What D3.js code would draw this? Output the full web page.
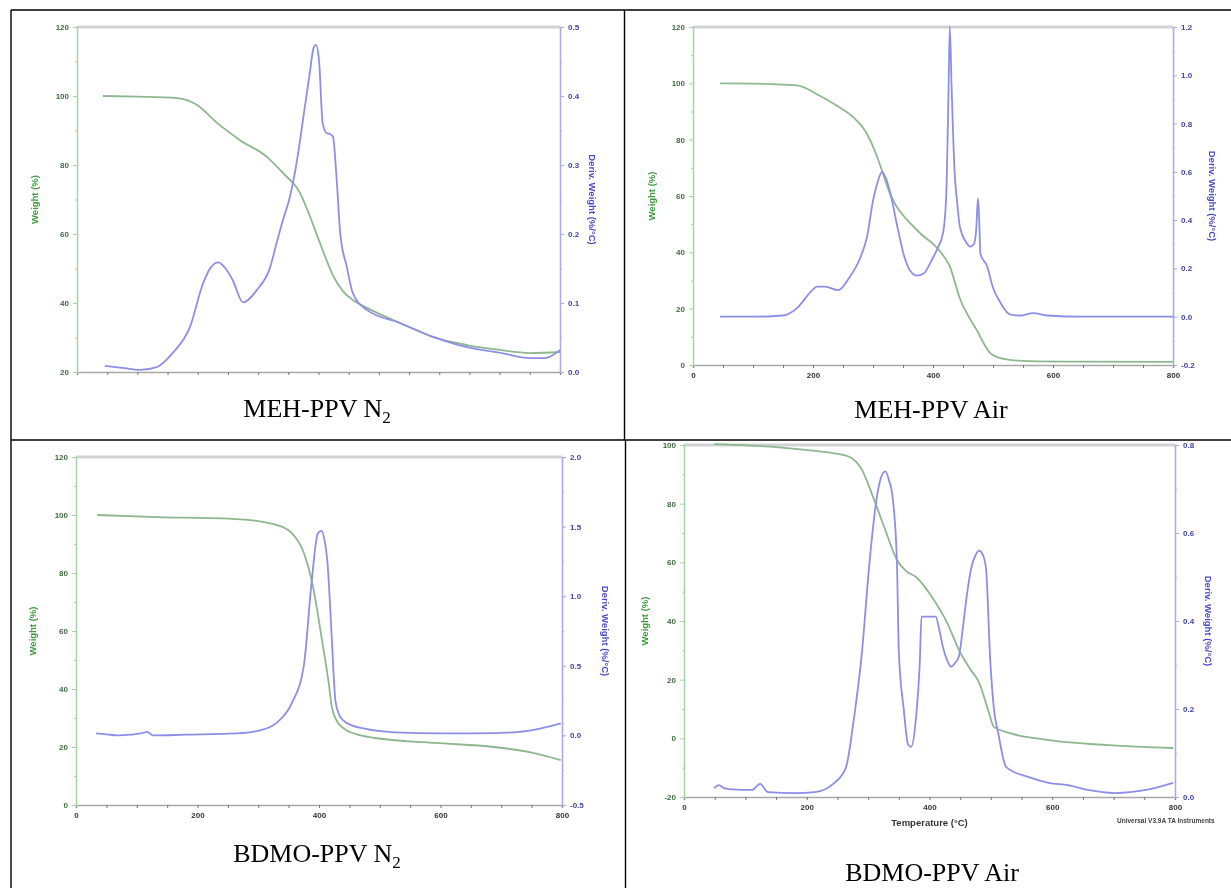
<!DOCTYPE html>
<html>
<head>
<meta charset="utf-8">
<script src="https://cdn.jsdelivr.net/npm/d3@7"></script>
<style>
  body { margin: 0; background: #fff; }
  svg { display: block; }
</style>
</head>
<body>
<svg id="fig" width="1231" height="888"></svg>
<script>
// ---------- TGA / DTG data (temperature in °C) ----------
// MEH-PPV under N2
const mehN2WeightT = [43, 100, 166, 199, 232, 270, 315, 341, 369, 385, 400, 412, 424, 440, 460, 480, 535, 590, 646, 700, 750, 800];
const mehN2Weight  = [100, 99.8, 99.4, 97.4, 92.2, 87.2, 82.3, 77.7, 72, 65.5, 58.5, 53, 48, 43.5, 40.5, 38.6, 34.2, 30.1, 27.8, 26.4, 25.5, 25.8];
const mehN2DerivT  = [46, 75, 104, 132, 159, 187, 209, 222, 234, 246, 258, 275, 298, 320, 330, 341, 353, 365, 375, 385, 392, 396, 401, 407, 414, 419, 424, 430, 436, 447, 457, 480, 535, 590, 646, 700, 750, 775, 800];
const mehN2Deriv   = [0.009, 0.006, 0.003, 0.007, 0.028, 0.065, 0.129, 0.152, 0.159, 0.150, 0.133, 0.101, 0.119, 0.152, 0.185, 0.220, 0.255, 0.31, 0.37, 0.43, 0.470, 0.474, 0.45, 0.36, 0.346, 0.345, 0.341, 0.28, 0.201, 0.152, 0.114, 0.090, 0.071, 0.051, 0.036, 0.028, 0.020, 0.020, 0.032];

// MEH-PPV in air
const mehAirWeightT = [45, 100, 173, 212, 240, 267, 290, 305, 315, 328, 340, 357, 380, 407, 420, 428, 437, 445, 460, 473, 485, 495, 510, 528, 560, 650, 800];
const mehAirWeight  = [100, 99.9, 99.3, 95.5, 92, 88, 82, 75, 69, 61, 56, 51.5, 46.5, 41.5, 38, 35, 29, 23.5, 17, 12.4, 7.5, 4.3, 2.6, 1.8, 1.4, 1.2, 1.1];
const mehAirDerivT  = [45, 100, 150, 175, 195, 207, 220, 242, 260, 278, 290, 300, 308, 315, 322, 330, 340, 352, 362, 373, 385, 397, 407, 417, 422, 426, 428, 431, 436, 440, 445, 455, 462, 468, 472, 475, 477, 479, 490, 500, 512, 528, 545, 567, 590, 650, 800];
const mehAirDeriv   = [0.0, 0.0, 0.005, 0.04, 0.10, 0.125, 0.125, 0.11, 0.16, 0.24, 0.33, 0.48, 0.56, 0.60, 0.57, 0.50, 0.38, 0.25, 0.19, 0.17, 0.18, 0.23, 0.28, 0.35, 0.50, 0.95, 1.2, 0.95, 0.60, 0.48, 0.37, 0.31, 0.29, 0.30, 0.36, 0.49, 0.40, 0.26, 0.21, 0.12, 0.06, 0.01, 0.005, 0.015, 0.005, 0.0, 0.0];

// BDMO-PPV under N2
const bdmoN2WeightT = [35, 134, 264, 330, 355, 375, 388, 398, 404, 411, 416, 421, 428, 440, 460, 492, 591, 688, 754, 798];
const bdmoN2Weight  = [100, 99.3, 98.6, 96.6, 93.8, 87, 77.5, 66, 58, 49, 42, 34, 29.5, 26.5, 24.5, 23.1, 21.4, 20, 17.9, 15.5];
const bdmoN2DerivT  = [33, 50, 69, 90, 107, 117, 127, 180, 264, 303, 330, 355, 375, 388, 398, 404, 410, 414, 418, 421, 427, 433, 440, 455, 473, 525, 600, 655, 721, 760, 798];
const bdmoN2Deriv   = [0.014, 0.008, 0.0, 0.005, 0.014, 0.025, 0.0, 0.005, 0.014, 0.036, 0.09, 0.23, 0.50, 1.11, 1.45, 1.47, 1.38, 1.24, 0.95, 0.70, 0.25, 0.15, 0.108, 0.07, 0.05, 0.022, 0.014, 0.014, 0.022, 0.045, 0.086];

// BDMO-PPV in air
const bdmoAirWeightT = [49, 150, 213, 250, 270, 290, 308, 328, 347, 362, 378, 404, 429, 448, 465, 481, 495, 505, 531, 595, 690, 797];
const bdmoAirWeight  = [100.3, 99.3, 98, 97, 95.9, 91.5, 82.3, 71, 60.8, 57, 55, 48.2, 39.3, 30.1, 24, 18.9, 10, 3.9, 1.8, -0.6, -2.3, -3.3];
const bdmoAirDerivT  = [49, 57, 65, 73, 111, 124, 137, 181, 213, 245, 264, 277, 290, 302, 314, 322, 328, 334, 340, 347, 350, 358, 365, 370, 378, 384, 387, 410, 416, 422, 429, 435, 442, 448, 454, 461, 468, 475, 481, 487, 492, 499, 505, 512, 525, 562, 594, 626, 658, 702, 753, 797];
const bdmoAirDeriv   = [0.02, 0.027, 0.02, 0.018, 0.016, 0.03, 0.011, 0.009, 0.011, 0.032, 0.068, 0.18, 0.33, 0.53, 0.68, 0.73, 0.74, 0.72, 0.68, 0.53, 0.33, 0.2, 0.12, 0.114, 0.18, 0.30, 0.41, 0.41, 0.38, 0.34, 0.31, 0.296, 0.305, 0.32, 0.38, 0.46, 0.52, 0.55, 0.56, 0.55, 0.52, 0.31, 0.2, 0.145, 0.068, 0.045, 0.032, 0.027, 0.016, 0.009, 0.016, 0.032];

// ---------- tick labels ----------
const tempTicks      = [0, 200, 400, 600, 800];
const weightTicksA   = [20, 40, 60, 80, 100, 120];
const weightTicksB   = [0, 20, 40, 60, 80, 100, 120];
const weightTicksC   = [-20, 0, 20, 40, 60, 80, 100];
const derivTicksA    = [0.0, 0.1, 0.2, 0.3, 0.4, 0.5];
const derivTicksB    = [-0.2, 0.0, 0.2, 0.4, 0.6, 0.8, 1.0, 1.2];
const derivTicksC    = [-0.5, 0.0, 0.5, 1.0, 1.5, 2.0];
const derivTicksD    = [0.0, 0.2, 0.4, 0.6, 0.8];
const captions = [
  { name: "MEH-PPV", gas: "N", sub: "2" },
  { name: "MEH-PPV", gas: "Air", sub: "" },
  { name: "BDMO-PPV", gas: "N", sub: "2" },
  { name: "BDMO-PPV", gas: "Air", sub: "" }
];

// ---------- page ----------
const svg = d3.select("#fig");
const defs = svg.append("defs");
defs.append("filter").attr("id", "soft")
  .attr("x", "-5%").attr("y", "-5%").attr("width", "110%").attr("height", "110%")
  .append("feGaussianBlur").attr("stdDeviation", 0.6);

const GREEN = "#8fb78f", BLUE = "#8e8ee8";
const GREEN_TXT = "#3d9b3d", BLUE_TXT = "#4a4ac8";
const SANS = "Liberation Sans, Arial, sans-serif";
// plain hyphen-minus for negative tick values
const fmtInt = v => String(v);
const fmtOne = v => v.toFixed(1);

const panels = [
  { id: 0, x0: 77, x1: 560, yTop: 27, yBot: 372, clip: [12, 11, 611, 366],
    wDom: [20, 120], wTicks: weightTicksA, dDom: [0, 0.5], dTicks: derivTicksA, dMinor: 0.05,
    xLabels: false, xTitle: false, lTitleX: 35, rTitleX: 592,
    wT: mehN2WeightT, w: mehN2Weight, dT: mehN2DerivT, d: mehN2Deriv },
  { id: 1, x0: 693, x1: 1173, yTop: 27, yBot: 365, clip: [626, 11, 605, 376],
    wDom: [0, 120], wTicks: weightTicksB, dDom: [-0.2, 1.2], dTicks: derivTicksB, dMinor: 0.1,
    xLabels: true, xTitle: false, lTitleX: 652, rTitleX: 1212,
    wT: mehAirWeightT, w: mehAirWeight, dT: mehAirDerivT, d: mehAirDeriv },
  { id: 2, x0: 76, x1: 562, yTop: 457, yBot: 805, clip: [12, 441, 611, 385],
    wDom: [0, 120], wTicks: weightTicksB, dDom: [-0.5, 2.0], dTicks: derivTicksC, dMinor: 0.25,
    xLabels: true, xTitle: false, lTitleX: 33, rTitleX: 605,
    wT: bdmoN2WeightT, w: bdmoN2Weight, dT: bdmoN2DerivT, d: bdmoN2Deriv },
  { id: 3, x0: 684, x1: 1175, yTop: 445, yBot: 797, clip: [626, 441, 605, 390],
    wDom: [-20, 100], wTicks: weightTicksC, dDom: [0, 0.8], dTicks: derivTicksD, dMinor: 0.1,
    xLabels: true, xTitle: true, lTitleX: 645, rTitleX: 1208,
    wT: bdmoAirWeightT, w: bdmoAirWeight, dT: bdmoAirDerivT, d: bdmoAirDeriv }
];

function styleAxis(sel, lineColor, textColor) {
  sel.selectAll("path.domain").attr("stroke", lineColor).attr("stroke-width", 1.3);
  sel.selectAll(".tick line").attr("stroke", lineColor).attr("stroke-width", 1);
  sel.selectAll(".tick text").attr("fill", textColor)
    .attr("font-family", SANS).attr("font-size", 8).attr("font-weight", "bold");
}

panels.forEach(p => {
  const c = p.clip;
  defs.append("clipPath").attr("id", "clip" + p.id)
    .append("rect").attr("x", c[0]).attr("y", c[1]).attr("width", c[2]).attr("height", c[3]);

  const g = svg.append("g").attr("clip-path", `url(#clip${p.id})`)
    .append("g").attr("filter", "url(#soft)");

  const x = d3.scaleLinear().domain([0, 800]).range([p.x0, p.x1]);
  const yW = d3.scaleLinear().domain(p.wDom).range([p.yBot, p.yTop]);
  const yD = d3.scaleLinear().domain(p.dDom).range([p.yBot, p.yTop]);

  // top frame bar
  g.append("line")
    .attr("x1", p.x0).attr("x2", p.x1).attr("y1", p.yTop).attr("y2", p.yTop)
    .attr("stroke", "#d2d2d2").attr("stroke-width", 3);

  // temperature axis: ticks every 50 °C, labels every 200 °C
  const xAx = g.append("g").attr("transform", `translate(0,${p.yBot})`)
    .call(d3.axisBottom(x).tickValues(d3.range(0, 801, 50)).tickSizeOuter(0)
      .tickSize(3).tickPadding(4)
      .tickFormat(v => (p.xLabels && tempTicks.includes(v)) ? fmtInt(v) : ""));
  styleAxis(xAx, "#a8a8a8", "#333");
  xAx.selectAll(".tick line").attr("stroke", "#777");

  // weight axis (left)
  const lMinor = g.append("g").attr("transform", `translate(${p.x0},0)`)
    .call(d3.axisLeft(yW).tickValues(d3.range(p.wDom[0] + 10, p.wDom[1], 20))
      .tickSize(2).tickFormat(""));
  styleAxis(lMinor, "#a9d4a9", GREEN_TXT);
  const lAx = g.append("g").attr("transform", `translate(${p.x0},0)`)
    .call(d3.axisLeft(yW).tickValues(p.wTicks).tickSize(4).tickPadding(4).tickSizeOuter(0)
      .tickFormat(fmtInt));
  styleAxis(lAx, "#a9d4a9", "#3f6a3f");

  // derivative axis (right)
  const rMinor = g.append("g").attr("transform", `translate(${p.x1},0)`)
    .call(d3.axisRight(yD).tickValues(d3.range(p.dDom[0] + p.dMinor, p.dDom[1] - 1e-9, p.dMinor))
      .tickSize(2).tickFormat(""));
  styleAxis(rMinor, "#aaaae6", BLUE_TXT);
  const rAx = g.append("g").attr("transform", `translate(${p.x1},0)`)
    .call(d3.axisRight(yD).tickValues(p.dTicks).tickSize(4).tickPadding(4).tickSizeOuter(0)
      .tickFormat(fmtOne));
  styleAxis(rAx, "#aaaae6", "#4242a6");

  // axis titles
  const midY = (p.yTop + p.yBot) / 2;
  g.append("text")
    .attr("transform", `translate(${p.lTitleX},${midY}) rotate(-90)`)
    .attr("text-anchor", "middle").attr("dy", "0.35em")
    .attr("font-family", SANS).attr("font-size", 9.5).attr("font-weight", "bold")
    .attr("fill", GREEN_TXT)
    .text("Weight (%)");
  g.append("text")
    .attr("transform", `translate(${p.rTitleX},${midY}) rotate(90)`)
    .attr("text-anchor", "middle").attr("dy", "0.35em")
    .attr("font-family", SANS).attr("font-size", 9.5).attr("font-weight", "bold")
    .attr("fill", BLUE_TXT)
    .text("Deriv. Weight (%/°C)");

  if (p.xTitle) {
    g.append("text")
      .attr("x", (p.x0 + p.x1) / 2).attr("y", p.yBot + 29)
      .attr("text-anchor", "middle")
      .attr("font-family", SANS).attr("font-size", 9.5).attr("font-weight", "bold")
      .attr("fill", "#333")
      .text("Temperature (°C)");
    g.append("text")
      .attr("x", p.x1 - 58).attr("y", p.yBot + 26)
      .attr("font-family", SANS).attr("font-size", 6.5).attr("font-weight", "bold")
      .attr("fill", "#444")
      .text("Universal V3.9A TA Instruments");
  }

  // curves
  const wLine = d3.line().x(d => x(d[0])).y(d => yW(d[1])).curve(d3.curveMonotoneX);
  const dLine = d3.line().x(d => x(d[0])).y(d => yD(d[1])).curve(d3.curveMonotoneX);
  g.append("path").datum(d3.zip(p.wT, p.w))
    .attr("d", wLine).attr("fill", "none").attr("stroke", GREEN).attr("stroke-width", 1.8);
  g.append("path").datum(d3.zip(p.dT, p.d))
    .attr("d", dLine).attr("fill", "none").attr("stroke", BLUE).attr("stroke-width", 1.8);
});

// ---------- captions ----------
const capPos = [[317, 417], [931, 418], [317, 862], [932, 881]];
captions.forEach((cap, i) => {
  const t = svg.append("text")
    .attr("x", capPos[i][0]).attr("y", capPos[i][1])
    .attr("text-anchor", "middle")
    .attr("font-family", "Liberation Serif, Times New Roman, serif")
    .attr("font-size", 26).attr("fill", "#000");
  t.append("tspan").text(cap.name + " " + cap.gas);
  if (cap.sub) t.append("tspan").attr("font-size", 17).attr("dy", 6).text(cap.sub);
});

// ---------- table rules ----------
const rules = [
  [11, 10, 1231, 10],
  [11, 10, 11, 888],
  [11, 440, 1231, 440],
  [624.5, 10, 624.5, 440],
  [625.5, 440, 625.5, 888]
];
svg.append("g").selectAll("line").data(rules).join("line")
  .attr("x1", d => d[0]).attr("y1", d => d[1]).attr("x2", d => d[2]).attr("y2", d => d[3])
  .attr("stroke", "#000").attr("stroke-width", 1.4);
</script>
</body>
</html>
